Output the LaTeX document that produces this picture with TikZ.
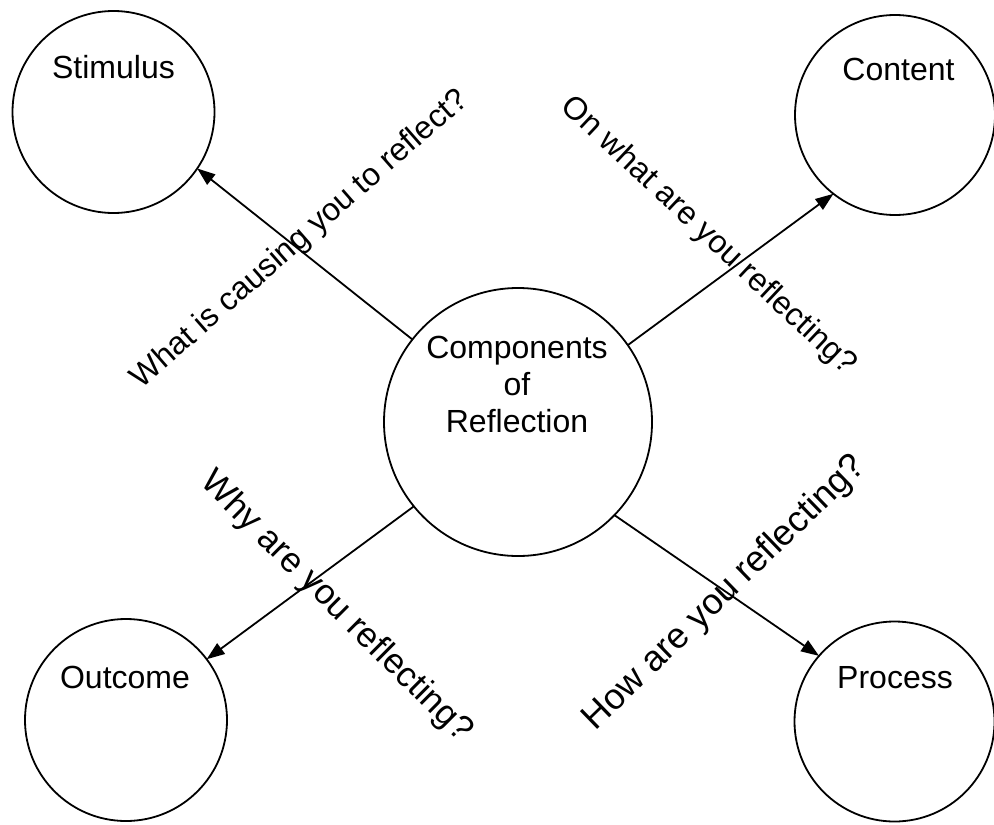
\documentclass[tikz,border=0pt]{standalone}
\usepackage{fontspec}
\setmainfont{Liberation Sans}
\usetikzlibrary{arrows.meta}
\begin{document}
\begin{tikzpicture}[x=0.5pt,y=-0.5pt,
  bubble/.style={circle,draw,line width=0.9pt,inner sep=0pt,outer sep=0pt},
  caption/.style={font=\fontsize{16}{18.5}\selectfont,inner sep=0pt,anchor=base},
  question/.style={inner sep=0pt,anchor=base},
  link/.style={line width=0.9pt,-{Triangle[length=9pt,width=6.5pt]}}]
\useasboundingbox (0,0) rectangle (994,824);

% circles
\node[bubble,minimum size=134pt] (hub) at (518,422) {};
\node[bubble,minimum size=101pt] (stimulus) at (113.5,112) {};
\node[bubble,minimum size=100pt] (content) at (895,115) {};
\node[bubble,minimum size=101pt] (outcome) at (126,720) {};
\node[bubble,minimum size=100pt] (process) at (894.5,721.5) {};

% circle captions
\node[font=\fontsize{16}{18.5}\selectfont,align=center,inner sep=0pt] (hubtext) at (517,384)
  {Components\\of\\Reflection};
\node[caption] (stimtext) at (113.5,79) {Stimulus};
\node[caption] (conttext) at (898.5,81) {Content};
\node[caption] (outtext) at (125,688) {Outcome};
\node[caption] (proctext) at (895,688) {Process};

% connectors
\draw[link] (hub.142) -- (stimulus.-34);
\draw[link] (hub.35) -- (content.232);
\draw[link] (hub.219) -- (outcome.37);
\draw[link] (hub.-44) -- (process.139);

% questions along the connectors
\node[question,font=\fontsize{16}{18.5}\selectfont,rotate=41.2] (q1) at (305.6,246)
  {What is causing you to reflect?};
\node[question,font=\fontsize{16}{18.5}\selectfont,rotate=-43.2] (q2) at (702.6,242)
  {On what are you reflecting?};
\node[question,font=\fontsize{17.5}{20}\selectfont,rotate=-44.8] (q3) at (329.8,613.5)
  {Why are you reflecting?};
\node[question,font=\fontsize{18}{20}\selectfont,rotate=44.1] (q4) at (731.5,599.8)
  {How are you reflecting?};
\end{tikzpicture}
\end{document}
